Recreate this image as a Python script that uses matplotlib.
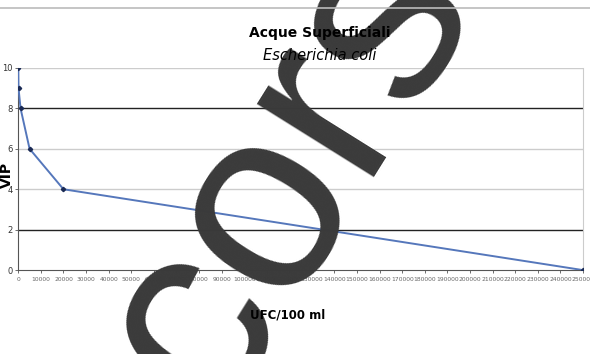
import matplotlib.pyplot as plt

# dati
ufc = [0, 100, 1000, 5000, 20000, 250000]
vip = [10, 9, 8, 6, 4, 0]
xticks = list(range(0, 250001, 10000))
yticks = [0, 2, 4, 6, 8, 10]
dark_lines = [2, 8]

fig = plt.figure(figsize=(5.9, 3.54), dpi=100)

# filigrana (sotto il grafico)
fig.text(0.487, 0.52, "cors", rotation=58, ha="center", va="center",
         fontsize=188, color="#3a3a3a", zorder=0,
         family="Liberation Sans")

ax = fig.add_axes([0.031, 0.237, 0.957, 0.571])
ax.patch.set_visible(False)

for y in yticks[1:]:
    if y in dark_lines:
        ax.axhline(y, color="#222222", lw=1.0, zorder=1)
    else:
        ax.axhline(y, color="#cccccc", lw=1.0, zorder=1)

ax.plot(ufc, vip, color="#5577bb", lw=1.4, marker="D", ms=2.2,
        mfc="#1a2a55", mec="#1a2a55", zorder=3)

ax.set_xlim(0, 250000)
ax.set_ylim(0, 10)
ax.set_xticks(xticks)
ax.set_xticklabels([str(v) for v in xticks], fontsize=4.3, color="#666666",
                   family="Liberation Sans Narrow")
ax.set_yticks(yticks)
ax.set_yticklabels([str(v) for v in yticks], fontsize=6, color="#333333")
ax.tick_params(axis="both", length=2, width=0.6, color="#555555", pad=3)
ax.tick_params(axis="y", pad=2)
ax.spines["top"].set_visible(False)
ax.spines["right"].set_color("#cccccc")
ax.spines["left"].set_color("#555555")
ax.spines["bottom"].set_color("#555555")

fig.text(0.542, 0.907, "Acque Superficiali", ha="center", va="center",
         fontsize=10, fontweight="bold", family="Liberation Sans Narrow")
fig.text(0.542, 0.842, "Escherichia coli", ha="center", va="center",
         fontsize=10.5, style="italic", family="Liberation Sans Narrow")
fig.text(0.012, 0.505, "VIP", rotation=90, ha="center", va="center",
         fontsize=10, fontweight="bold")
fig.text(0.488, 0.11, "UFC/100 ml", ha="center", va="center",
         fontsize=8.5, fontweight="bold", family="Liberation Sans Narrow")

# bordo superiore del riquadro
fig.add_artist(plt.Line2D([0, 1], [0.977, 0.977], color="#bbbbbb", lw=1.2))

fig.savefig("out.png", dpi=100)
